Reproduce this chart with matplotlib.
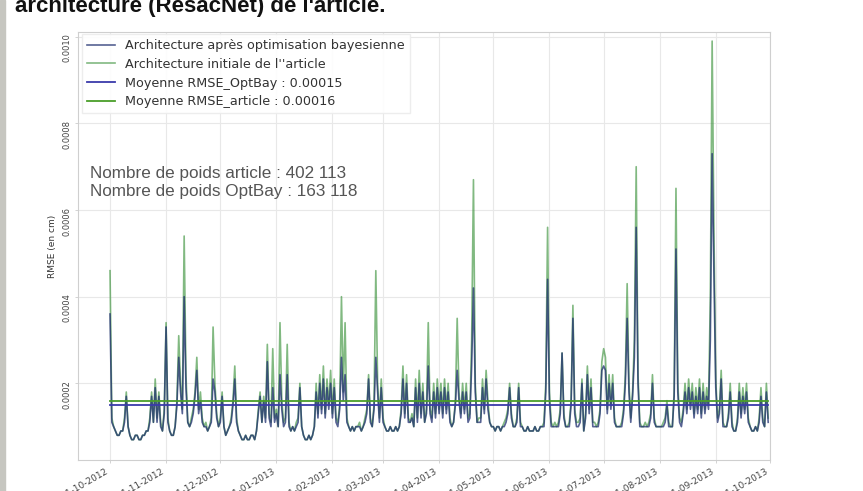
import numpy as np
import pandas as pd
import matplotlib
matplotlib.use("Agg")
import matplotlib.pyplot as plt
import matplotlib.dates as mdates
from matplotlib.patches import Rectangle
from matplotlib.ticker import FormatStrFormatter

# Daily RMSE values, in units of 1e-5 cm
UNIT = 1e-5
start_date = "2012-10-01"

rmse_article = [
    # Oct 2012
    46, 12, 10, 9, 8, 8, 9, 9, 12, 18, 10, 8, 7, 7, 8, 8, 7, 7, 8, 8,
    9, 9, 12, 18, 11, 21, 12, 18, 11, 9, 14,
    # Nov 2012
    34, 12, 9, 8, 8, 10, 16, 31, 20, 14, 54, 22, 11, 10, 12, 14, 18, 26, 14, 18,
    12, 10, 11, 9, 10, 12, 33, 20, 13, 10,
    # Dec 2012
    12, 18, 10, 8, 9, 10, 12, 16, 24, 12, 9, 8, 7, 7, 8, 7, 7, 8, 8, 7,
    9, 14, 18, 11, 17, 12, 29, 13, 11, 28, 12,
    # Jan 2013
    14, 10, 34, 16, 11, 12, 29, 11, 9, 10, 9, 11, 12, 20, 10, 8, 7, 7, 8, 7,
    8, 10, 20, 13, 22, 14, 24, 13, 21, 15, 23,
    # Feb 2013
    13, 21, 12, 11, 15, 40, 18, 34, 12, 10, 9, 10, 9, 10, 10, 11, 9, 10, 12, 14,
    22, 12, 10, 15, 46, 20, 12, 21,
    # Mar 2013
    12, 10, 9, 9, 10, 9, 9, 10, 9, 10, 14, 24, 13, 22, 12, 11, 13, 10, 21, 12,
    23, 13, 20, 11, 14, 34, 14, 12, 20, 13, 21,
    # Apr 2013
    14, 20, 13, 21, 14, 20, 12, 10, 11, 16, 35, 18, 13, 20, 14, 20, 12, 13, 30, 67,
    20, 11, 12, 12, 21, 14, 23, 16, 11, 10,
    # May 2013
    10, 9, 10, 10, 9, 10, 11, 12, 14, 20, 13, 10, 10, 12, 20, 11, 10, 9, 9, 10,
    9, 9, 9, 10, 9, 9, 10, 10, 11, 20, 56,
    # Jun 2013
    18, 11, 10, 11, 10, 11, 14, 27, 13, 10, 10, 11, 16, 38, 14, 11, 11, 12, 21, 9,
    13, 24, 14, 21, 11, 11, 10, 11, 14, 25,
    # Jul 2013
    28, 26, 14, 22, 15, 22, 12, 10, 10, 10, 11, 14, 22, 43, 20, 12, 18, 30, 70, 22,
    11, 10, 10, 11, 10, 11, 13, 22, 12, 10, 10,
    # Aug 2013
    10, 10, 11, 12, 16, 11, 10, 10, 18, 65, 20, 12, 11, 14, 20, 14, 21, 15, 20, 13,
    19, 14, 21, 13, 20, 14, 19, 15, 40, 99, 55,
    # Sep 2013
    21, 12, 14, 23, 11, 10, 10, 13, 20, 11, 9, 9, 12, 20, 13, 19, 14, 20, 12, 10,
    9, 9, 10, 9, 12, 19, 12, 10, 20, 12,
]

rmse_optbay = [
    # Oct 2012
    36, 11, 10, 9, 8, 8, 9, 9, 11, 17, 10, 8, 7, 7, 8, 8, 7, 7, 8, 8,
    9, 9, 11, 17, 11, 19, 11, 17, 10, 9, 13,
    # Nov 2012
    33, 11, 9, 8, 8, 10, 15, 26, 18, 13, 40, 19, 11, 10, 11, 13, 17, 23, 13, 16,
    11, 10, 10, 9, 10, 11, 21, 18, 12, 10,
    # Dec 2012
    11, 17, 10, 8, 9, 10, 11, 15, 21, 11, 9, 8, 7, 7, 8, 7, 7, 8, 8, 7,
    9, 13, 17, 11, 16, 11, 25, 12, 10, 19, 11,
    # Jan 2013
    13, 10, 22, 14, 10, 11, 22, 10, 9, 10, 9, 10, 11, 19, 10, 8, 7, 7, 8, 7,
    8, 10, 18, 12, 20, 13, 21, 12, 19, 14, 20,
    # Feb 2013
    12, 19, 11, 10, 14, 26, 16, 22, 11, 10, 9, 10, 9, 10, 10, 10, 9, 10, 11, 13,
    21, 11, 10, 14, 26, 18, 11, 19,
    # Mar 2013
    11, 10, 9, 9, 10, 9, 9, 10, 9, 10, 13, 21, 12, 20, 11, 11, 12, 10, 19, 11,
    20, 12, 18, 11, 13, 24, 13, 11, 18, 12, 19,
    # Apr 2013
    13, 18, 12, 19, 13, 18, 11, 10, 11, 15, 23, 16, 12, 18, 13, 18, 11, 12, 24, 42,
    18, 11, 11, 11, 19, 13, 21, 14, 11, 10,
    # May 2013
    10, 9, 10, 10, 9, 10, 10, 11, 13, 19, 12, 10, 10, 11, 19, 10, 10, 9, 9, 10,
    9, 9, 9, 10, 9, 9, 10, 10, 10, 18, 44,
    # Jun 2013
    16, 10, 10, 10, 10, 10, 13, 27, 12, 10, 10, 10, 15, 35, 13, 10, 10, 11, 20, 9,
    12, 22, 13, 19, 10, 10, 10, 10, 13, 23,
    # Jul 2013
    24, 23, 13, 20, 14, 20, 11, 10, 10, 10, 10, 13, 20, 35, 18, 11, 17, 26, 56, 20,
    10, 10, 10, 10, 10, 10, 12, 20, 11, 10, 10,
    # Aug 2013
    10, 10, 10, 11, 15, 10, 10, 10, 17, 51, 18, 11, 10, 13, 18, 13, 19, 14, 18, 12,
    17, 13, 19, 12, 18, 13, 17, 14, 30, 73, 45,
    # Sep 2013
    19, 11, 13, 21, 10, 10, 10, 12, 18, 10, 9, 9, 11, 18, 12, 17, 13, 18, 11, 10,
    9, 9, 10, 9, 11, 17, 11, 10, 18, 11,
]

mean_optbay = 0.00015
mean_article = 0.00016
n_poids_article = "402 113"
n_poids_optbay = "163 118"

series_labels = [
    "Architecture après optimisation bayesienne",
    "Architecture initiale de l''article",
    f"Moyenne RMSE_OptBay : {mean_optbay:.5f}",
    f"Moyenne RMSE_article : {mean_article:.5f}",
]
y_ticks = [0.0002, 0.0004, 0.0006, 0.0008, 0.0010]

dates = pd.date_range(start_date, periods=len(rmse_article), freq="D")
art = np.array(rmse_article) * UNIT
opt = np.array(rmse_optbay) * UNIT

W, H = 863, 491
fig = plt.figure(figsize=(W / 100, H / 100), dpi=100)
fig.patch.set_facecolor("white")

# page margin strip and caption heading
fig.patches.append(Rectangle((0, 0), 5 / W, 1, transform=fig.transFigure,
                             color="#c6c6c0", zorder=0))
fig.text(15 / W, 1 - 12 / H, "architecture (ResacNet) de l'article.",
         fontsize=16, fontweight="bold", family="Liberation Sans",
         va="baseline", ha="left", color="#111111")

ax = fig.add_axes([78 / W, 31 / H, 692 / W, 428 / H])
ax.set_facecolor("white")

l1, = ax.plot(dates, opt, color="#1f2f6f", lw=1.2, alpha=0.75, zorder=3,
              label=series_labels[0])
l2, = ax.plot(dates, art, color="#2e8b2e", lw=1.2, alpha=0.6, zorder=2,
              label=series_labels[1])
l3, = ax.plot(dates, np.full(len(dates), mean_optbay), color="#3a3aaa",
              lw=1.3, zorder=5, label=series_labels[2])
l4, = ax.plot(dates, np.full(len(dates), mean_article), color="#4a9e2a",
              lw=1.3, zorder=4, label=series_labels[3])

ax.set_xlim(pd.Timestamp("2012-09-13 07:00"), pd.Timestamp("2013-10-01"))
ax.set_ylim(0.000023, 0.001011)

ax.xaxis.set_major_locator(mdates.MonthLocator())
ax.xaxis.set_major_formatter(mdates.DateFormatter("%d-%m-%Y"))
ax.set_yticks(y_ticks)
ax.yaxis.set_major_formatter(FormatStrFormatter("%.4f"))

for lbl in ax.get_xticklabels():
    lbl.set_rotation(30)
    lbl.set_ha("right")
    lbl.set_fontsize(6.5)
    lbl.set_color("#444444")
for lbl in ax.get_yticklabels():
    lbl.set_rotation(90)
    lbl.set_fontsize(6)
    lbl.set_color("#444444")

ax.tick_params(axis="both", length=2, width=0.6, color="#cccccc", pad=3)
ax.grid(True, color="#e8e8e8", lw=0.8, zorder=0)
ax.set_axisbelow(True)
for s in ax.spines.values():
    s.set_color("#cfcfcf")
    s.set_linewidth(0.8)

ax.set_ylabel("RMSE (en cm)", fontsize=6.5, color="#333333", labelpad=4)

leg = ax.legend(handles=[l1, l2, l3, l4], loc="upper left",
                bbox_to_anchor=(82 / W, 1 - 34 / H),
                bbox_transform=fig.transFigure, borderaxespad=0,
                fontsize=9.2, labelspacing=0.45, handlelength=2.2,
                handletextpad=0.8, frameon=True, edgecolor="#ececec",
                facecolor="white", framealpha=0.9, fancybox=False)
for t in leg.get_texts():
    t.set_color("#333333")

fig.text(90 / W, 1 - 178 / H, f"Nombre de poids article : {n_poids_article}",
         fontsize=12.3, family="Liberation Sans", color="#555555",
         va="baseline", ha="left")
fig.text(90 / W, 1 - 196 / H, f"Nombre de poids OptBay : {n_poids_optbay}",
         fontsize=12.3, family="Liberation Sans", color="#555555",
         va="baseline", ha="left")

fig.savefig("out.png", dpi=100, facecolor="white")
